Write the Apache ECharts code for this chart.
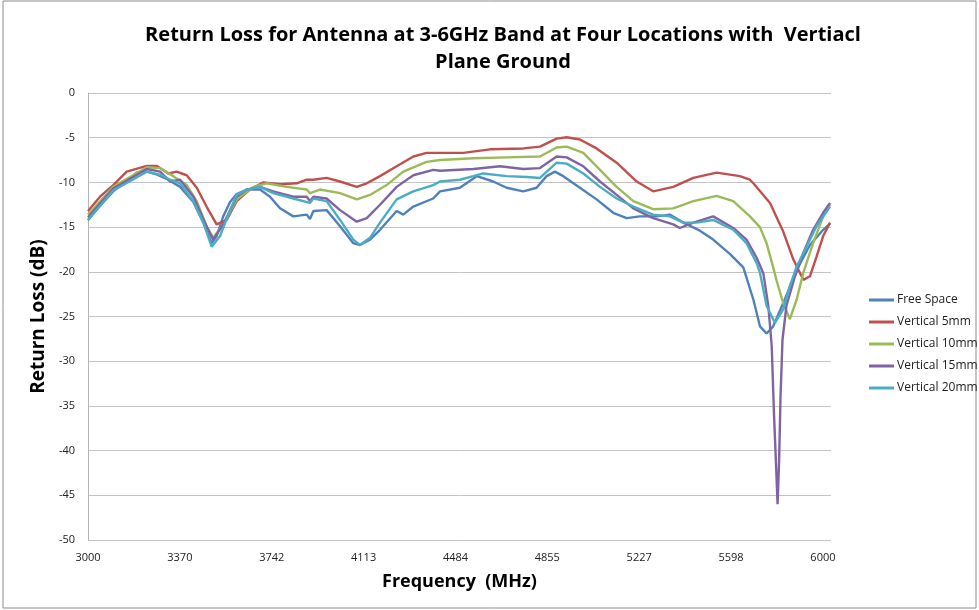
<!DOCTYPE html>
<html>
<head>
<meta charset="utf-8">
<script src="https://cdn.jsdelivr.net/npm/echarts@6/dist/echarts.min.js"></script>
<style>
  html, body { margin: 0; padding: 0; background: #fff; }
  #chart { width: 979px; height: 610px; }
</style>
</head>
<body>
<div id="chart"></div>
<script>
// tick labels shown under the category-like frequency axis
const xTickLabels = ['3000', '3370', '3742', '4113', '4484', '4855', '5227', '5598', '6000']
const seriesNames = ['Free Space', 'Vertical 5mm', 'Vertical 10mm', 'Vertical 15mm', 'Vertical 20mm']

// [frequency MHz, return loss dB]
const freeSpace = [
  [3000, -14.2], [3049, -12.6], [3103, -11.0], [3158, -9.8], [3199, -8.9], [3240, -8.8], [3280, -9.1],
  [3321, -9.6], [3376, -10.5], [3430, -12.2], [3471, -14.5], [3505, -16.8], [3525, -16.0], [3552, -13.8],
  [3580, -12.2], [3607, -11.3], [3648, -10.8], [3702, -10.8], [3743, -11.6], [3784, -12.9], [3838, -13.8],
  [3893, -13.6], [3906, -14.1], [3920, -13.2], [3974, -13.1], [4029, -14.9], [4083, -16.8], [4110, -17.0],
  [4151, -16.4], [4192, -15.3], [4260, -13.2], [4287, -13.6], [4328, -12.7], [4409, -11.8], [4437, -11.0],
  [4518, -10.6], [4587, -9.3], [4654, -9.9], [4709, -10.6], [4777, -11.0], [4831, -10.6], [4872, -9.3],
  [4906, -8.8], [4940, -9.3], [5008, -10.6], [5076, -11.9], [5144, -13.4], [5199, -14.0], [5253, -13.8],
  [5321, -13.8], [5375, -13.6], [5430, -14.5], [5498, -15.4], [5552, -16.4], [5620, -18.0], [5675, -19.5],
  [5716, -23.1], [5743, -26.1], [5770, -26.9], [5797, -26.1], [5838, -23.5], [5893, -19.8], [5947, -17.0],
  [6001, -15.3], [6029, -14.6]
]
const vertical5 = [
  [3000, -13.2], [3049, -11.6], [3103, -10.3], [3158, -8.8], [3240, -8.15], [3280, -8.15], [3328, -9.0],
  [3362, -8.8], [3403, -9.2], [3444, -10.6], [3484, -12.7], [3525, -14.7], [3566, -14.2], [3607, -12.1],
  [3661, -10.8], [3716, -10.0], [3784, -10.2], [3852, -10.1], [3893, -9.7], [3920, -9.7], [3974, -9.5],
  [4029, -9.9], [4097, -10.5], [4138, -10.1], [4192, -9.3], [4260, -8.2], [4328, -7.1], [4382, -6.7],
  [4437, -6.7], [4532, -6.7], [4641, -6.3], [4777, -6.2], [4845, -6.0], [4913, -5.1], [4954, -4.95],
  [5008, -5.2], [5076, -6.2], [5158, -7.8], [5240, -9.9], [5307, -11.0], [5389, -10.5], [5471, -9.5],
  [5566, -8.9], [5661, -9.3], [5702, -9.7], [5716, -10.1], [5784, -12.3], [5838, -15.5], [5879, -18.6],
  [5920, -20.9], [5947, -20.5], [5974, -18.3], [6001, -16.0], [6029, -14.5]
]
const vertical10 = [
  [3000, -13.6], [3103, -10.5], [3240, -8.3], [3294, -8.4], [3348, -9.3], [3403, -10.3], [3444, -12.1],
  [3484, -14.9], [3511, -16.2], [3552, -14.7], [3607, -11.9], [3675, -10.5], [3729, -10.1], [3811, -10.5],
  [3893, -10.8], [3906, -11.2], [3947, -10.8], [4029, -11.2], [4097, -11.9], [4151, -11.4], [4219, -10.3],
  [4287, -8.8], [4382, -7.7], [4437, -7.5], [4573, -7.3], [4709, -7.2], [4845, -7.1], [4913, -6.1],
  [4954, -6.0], [5022, -6.7], [5090, -8.6], [5158, -10.5], [5226, -12.1], [5307, -13.0], [5389, -12.9],
  [5471, -12.1], [5566, -11.5], [5634, -12.1], [5702, -13.8], [5743, -15.0], [5770, -16.8], [5797, -19.5],
  [5811, -21.0], [5838, -23.5], [5865, -25.3], [5893, -23.1], [5920, -20.1], [5960, -16.8], [6001, -13.8],
  [6029, -12.5]
]
const vertical15 = [
  [3000, -13.9], [3103, -10.7], [3240, -8.5], [3294, -8.8], [3335, -9.9], [3376, -9.7], [3430, -11.6],
  [3484, -14.9], [3511, -16.4], [3552, -14.7], [3607, -11.6], [3648, -10.8], [3702, -10.5], [3756, -11.0],
  [3838, -11.6], [3893, -11.6], [3906, -12.1], [3920, -11.6], [3974, -11.8], [4029, -13.1], [4097, -14.4],
  [4138, -14.0], [4192, -12.5], [4260, -10.5], [4328, -9.2], [4409, -8.6], [4437, -8.7], [4573, -8.5],
  [4682, -8.2], [4777, -8.5], [4845, -8.4], [4913, -7.1], [4954, -7.2], [5022, -8.2], [5090, -9.9],
  [5158, -11.4], [5226, -12.9], [5307, -14.0], [5389, -14.7], [5416, -15.1], [5471, -14.5], [5552, -13.8],
  [5634, -15.1], [5688, -16.4], [5729, -18.4], [5757, -20.2], [5777, -23.8], [5791, -28.3], [5800, -35.7],
  [5811, -43.2], [5815, -46.0], [5821, -41.3], [5827, -33.9], [5835, -27.6], [5851, -23.8], [5886, -20.5],
  [5920, -17.9], [5960, -15.3], [6001, -13.4], [6029, -12.3]
]
const vertical20 = [
  [3000, -14.2], [3103, -10.9], [3240, -8.8], [3301, -9.2], [3335, -9.7], [3376, -10.1], [3430, -12.1],
  [3471, -14.5], [3505, -17.2], [3539, -16.0], [3580, -13.1], [3607, -11.4], [3648, -10.8], [3702, -10.5],
  [3756, -11.2], [3838, -11.8], [3906, -12.3], [3920, -11.8], [3974, -12.1], [4029, -14.2], [4083, -16.4],
  [4110, -17.0], [4151, -16.2], [4192, -14.5], [4260, -11.9], [4328, -11.0], [4409, -10.3], [4437, -9.9],
  [4518, -9.7], [4573, -9.3], [4613, -9.0], [4709, -9.3], [4791, -9.4], [4845, -9.5], [4913, -7.8],
  [4954, -7.9], [5022, -9.0], [5090, -10.5], [5158, -11.8], [5226, -12.7], [5307, -13.6], [5375, -13.8],
  [5430, -14.5], [5484, -14.5], [5552, -14.2], [5634, -15.3], [5688, -16.8], [5729, -19.0], [5743, -20.1],
  [5770, -23.8], [5804, -25.7], [5838, -24.2], [5865, -21.6], [5893, -19.4], [5933, -17.2], [5974, -14.9],
  [6029, -12.7]
]

const allData = [freeSpace, vertical5, vertical10, vertical15, vertical20]
const colors = ['#4F81BD', '#C0504D', '#9BBB59', '#8064A2', '#4BACC6']
const fontFamily = 'Open Sans, Noto Sans, sans-serif'

const chart = echarts.init(document.getElementById('chart'))

chart.setOption({
  animation: false,
  color: colors,
  textStyle: { fontFamily: fontFamily },
  title: {
    text: 'Return Loss for Antenna at 3-6GHz Band at Four Locations with  Vertiacl\nPlane Ground',
    left: 498,
    top: 17,
    textAlign: 'center',
    textStyle: { fontSize: 20, fontWeight: 'bold', color: '#000', lineHeight: 27, fontFamily: fontFamily }
  },
  graphic: [{
    type: 'rect',
    shape: { x: 3, y: 1, width: 973, height: 607 },
    style: { fill: null, stroke: '#8c8c8c', lineWidth: 1 },
    silent: true
  }],
  legend: {
    orient: 'vertical',
    left: 864,
    top: 289,
    itemWidth: 25,
    itemHeight: 3,
    itemGap: 10,
    icon: 'rect',
    textStyle: { fontSize: 12, color: '#222', fontFamily: fontFamily, padding: [0, 0, 0, -2] },
    data: seriesNames
  },
  grid: { left: 88, right: 148, top: 93, bottom: 70 },
  xAxis: {
    type: 'value',
    min: 3000,
    max: 6033,
    interval: 375,
    name: 'Frequency  (MHz)',
    nameLocation: 'middle',
    nameGap: 33,
    nameTextStyle: { fontSize: 18, fontWeight: 'bold', color: '#000', fontFamily: fontFamily },
    axisLine: { show: false },
    axisTick: { show: false },
    splitLine: { show: false },
    axisLabel: {
      margin: 12,
      fontSize: 11,
      color: '#222',
      showMaxLabel: false,
      formatter: function (v) {
        const k = (v - 3000) / 375
        return Math.abs(k - Math.round(k)) < 1e-6 ? (xTickLabels[Math.round(k)] || '') : ''
      }
    }
  },
  yAxis: {
    type: 'value',
    min: -50,
    max: 0,
    interval: 5,
    name: 'Return Loss (dB)',
    nameLocation: 'middle',
    nameGap: 38,
    nameTextStyle: { fontSize: 19, fontWeight: 'bold', color: '#000', fontFamily: fontFamily },
    axisLine: { show: true, lineStyle: { color: '#b4b4b4' } },
    axisTick: { show: false },
    axisLabel: { margin: 13, fontSize: 11, color: '#222' },
    splitLine: { lineStyle: { color: '#c4c4c4', width: 1 } }
  },
  series: seriesNames.map(function (name, i) {
    return {
      name: name,
      type: 'line',
      data: allData[i],
      showSymbol: false,
      symbol: 'none',
      lineStyle: { width: 2.4, color: colors[i] },
      itemStyle: { color: colors[i] }
    }
  })
})
</script>
</body>
</html>
